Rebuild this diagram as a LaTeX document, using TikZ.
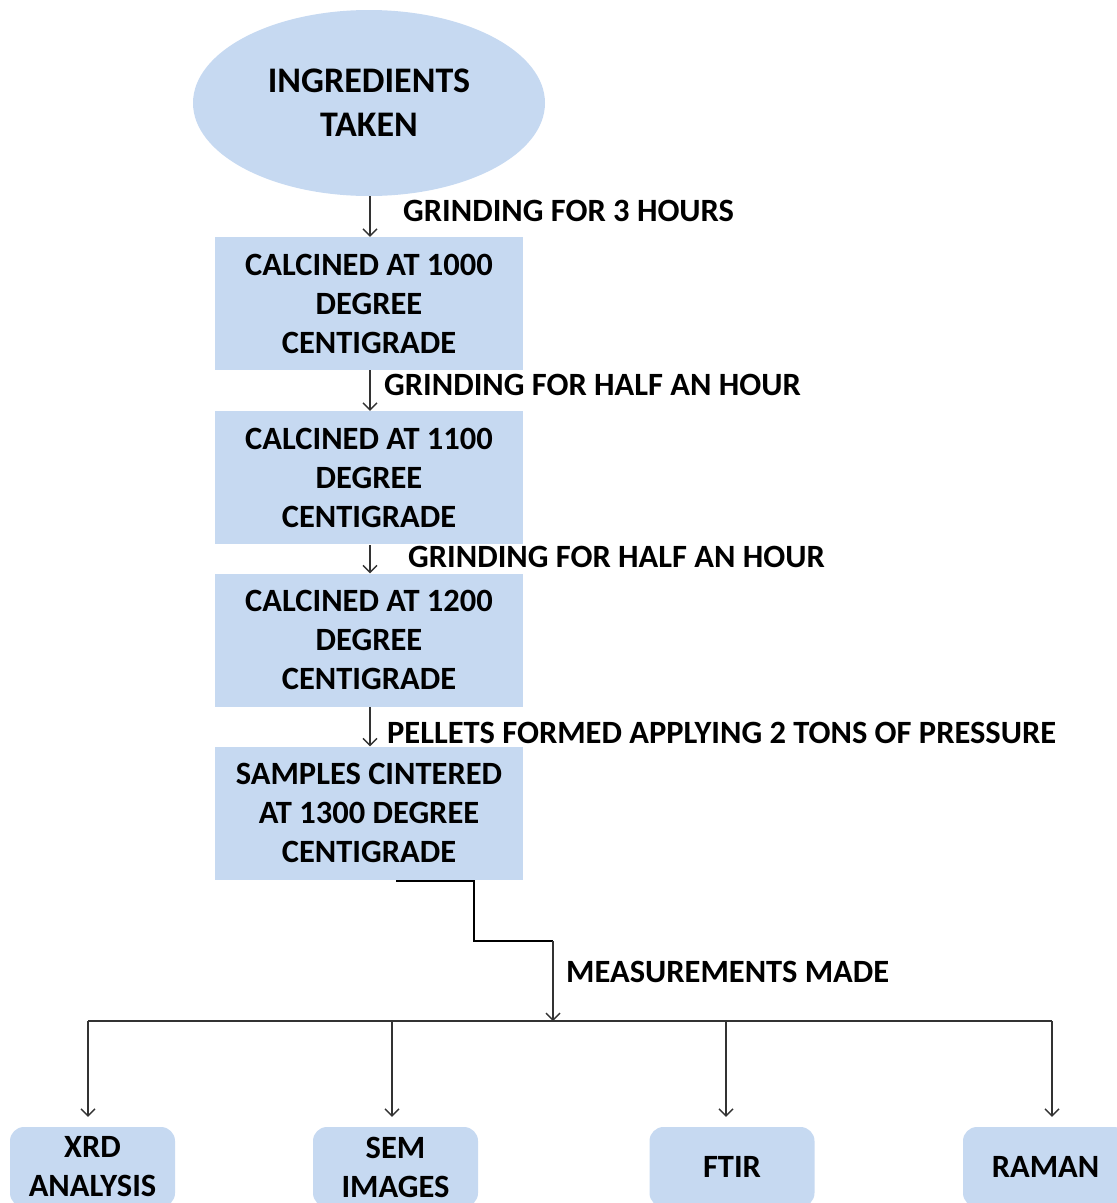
\documentclass[tikz,border=0pt]{standalone}
\usepackage{fontspec}
\setmainfont{Carlito}
\usetikzlibrary{shapes.geometric,arrows.meta}
\definecolor{boxblue}{RGB}{198,217,241}
\begin{document}
\begin{tikzpicture}[x=1pt,y=-1pt,
  txt/.style={font=\bfseries\fontsize{32.5}{39}\selectfont},
  stepbox/.style={txt,fill=boxblue,draw=none,minimum width=308pt,minimum height=133pt,inner sep=0pt,align=center},
  resbox/.style={txt,fill=boxblue,draw=none,rounded corners=14pt,minimum width=165pt,minimum height=80pt,inner sep=0pt,align=center},
  lbl/.style={txt,anchor=west,inner sep=0pt},
  arr/.style={draw=black!80,line width=1.4pt,-{Straight Barb[length=7pt,width=14pt,line width=1.4pt]}},
  wire/.style={draw=black,line width=2pt}]
\useasboundingbox (0,0) rectangle (1117,1203);
\node[ellipse,fill=boxblue,minimum width=352pt,minimum height=186pt,inner sep=0pt,align=center,font=\bfseries\fontsize{36}{44}\selectfont] (ing) at (369,103) {INGREDIENTS\\TAKEN};
\node[stepbox] (b1) at (369,303.5) {CALCINED AT 1000\\DEGREE\\CENTIGRADE};
\node[stepbox] (b2) at (369,477.5) {CALCINED AT 1100\\DEGREE\\CENTIGRADE};
\node[stepbox] (b3) at (369,640) {CALCINED AT 1200\\DEGREE\\CENTIGRADE};
\node[stepbox] (b4) at (369,813) {SAMPLES CINTERED\\AT 1300 DEGREE\\CENTIGRADE};
\node[lbl] (l1) at (403,211) {GRINDING FOR 3 HOURS};
\node[lbl] (l2) at (384,385) {GRINDING FOR HALF AN HOUR};
\node[lbl] (l3) at (408,557) {GRINDING FOR HALF AN HOUR};
\node[lbl] (l4) at (387,733) {PELLETS FORMED APPLYING 2 TONS OF PRESSURE};
\node[lbl] (l5) at (566,972) {MEASUREMENTS MADE};
\draw[arr] (370,196) coordinate (a1) -- (a1 |- b1.north);
\draw[arr] (370,370) coordinate (a2) -- (a2 |- b2.north);
\draw[arr] (370,545) coordinate (a3) -- (a3 |- b3.north);
\draw[arr] (370,707) coordinate (a4) -- (a4 |- b4.north);
\coordinate (c0) at (396,881);
\coordinate (c1) at (474,881);
\coordinate (c2) at (474,941);
\coordinate (c3) at (553,941);
\coordinate (hub) at (553,1021);
\draw[wire] (c0) -- (c1) -- (c2) -- (c3);
\draw[arr] (c3) -- (hub);
\node[resbox] (xrd) at (92.5,1167) {XRD\\ANALYSIS};
\node[resbox] (sem) at (395.5,1167) {SEM\\IMAGES};
\node[resbox] (ftir) at (732,1167) {FTIR};
\node[resbox] (raman) at (1045.5,1167) {RAMAN};
\coordinate (t1) at (88,1021);
\coordinate (t2) at (392,1021);
\coordinate (t3) at (726,1021);
\coordinate (t4) at (1052,1021);
\draw[draw=black!80,line width=1.4pt] (t1) -- (t4);
\draw[arr,shorten >=10pt] (t1) -- (t1 |- xrd.north);
\draw[arr,shorten >=10pt] (t2) -- (t2 |- sem.north);
\draw[arr,shorten >=10pt] (t3) -- (t3 |- ftir.north);
\draw[arr,shorten >=10pt] (t4) -- (t4 |- raman.north);
\end{tikzpicture}
\end{document}
